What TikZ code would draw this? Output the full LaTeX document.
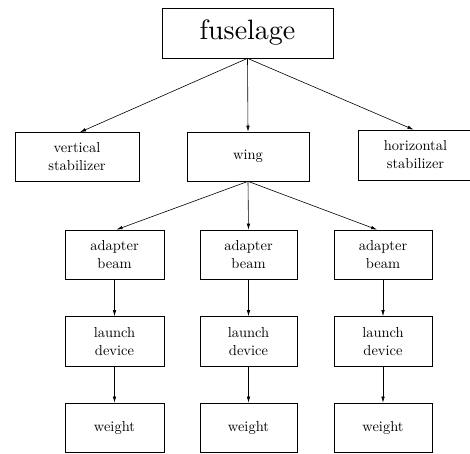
\documentclass[tikz,border=0pt]{standalone}
\usepackage{fontspec}
\setmainfont{lmroman10-regular.otf}
\usetikzlibrary{arrows.meta}
\begin{document}
\begin{tikzpicture}[x=1pt,y=-1pt,
  box/.style={draw,line width=0.7pt,inner sep=0pt,align=center,
    font=\fontsize{14.5}{18}\selectfont},
  link/.style={line width=0.6pt,-{Latex[length=6pt,width=3.5pt]}}]
\clip (0,0) rectangle (470,453);
\useasboundingbox (0,0) rectangle (470,453);
% top level
\node[box,minimum width=171pt,minimum height=50pt,
  font=\fontsize{28}{30}\selectfont] (fus) at (247.5,33) {fuselage};
% second level
\node[box,minimum width=124pt,minimum height=49pt] (vs) at (77,157) {vertical\\stabilizer};
\node[box,minimum width=122pt,minimum height=49pt] (wing) at (248,156.5) {wing};
\node[box,minimum width=115pt,minimum height=50pt] (hs) at (415.5,155) {horizontal\\stabilizer};
% three columns below the wing
\foreach \c/\x/\w in {l/114.5/99, m/248.5/97, r/383/98}{
  \node[box,minimum width=\w pt,minimum height=49pt] (ab\c) at (\x,254.5) {adapter\\beam};
  \node[box,minimum width=\w pt,minimum height=50pt] (ld\c) at (\x,341.5) {launch\\device};
  \node[box,minimum width=\w pt,minimum height=49pt] (wt\c) at (\x,427.5) {weight};
  \draw[link] (ab\c) -- (ld\c);
  \draw[link] (ld\c) -- (wt\c);
}
% connectors
\draw[link] (fus.south) -- ([xshift=3pt]vs.north);
\draw[link] (fus.south) -- (wing.north);
\draw[link] (fus.south) -- ([xshift=-2pt]hs.north);
\draw[link] (wing.south) -- ([xshift=2pt]abl.north);
\draw[link] (wing.south) -- (abm.north);
\draw[link] (wing.south) -- ([xshift=-6pt]abr.north);
\end{tikzpicture}
\end{document}
